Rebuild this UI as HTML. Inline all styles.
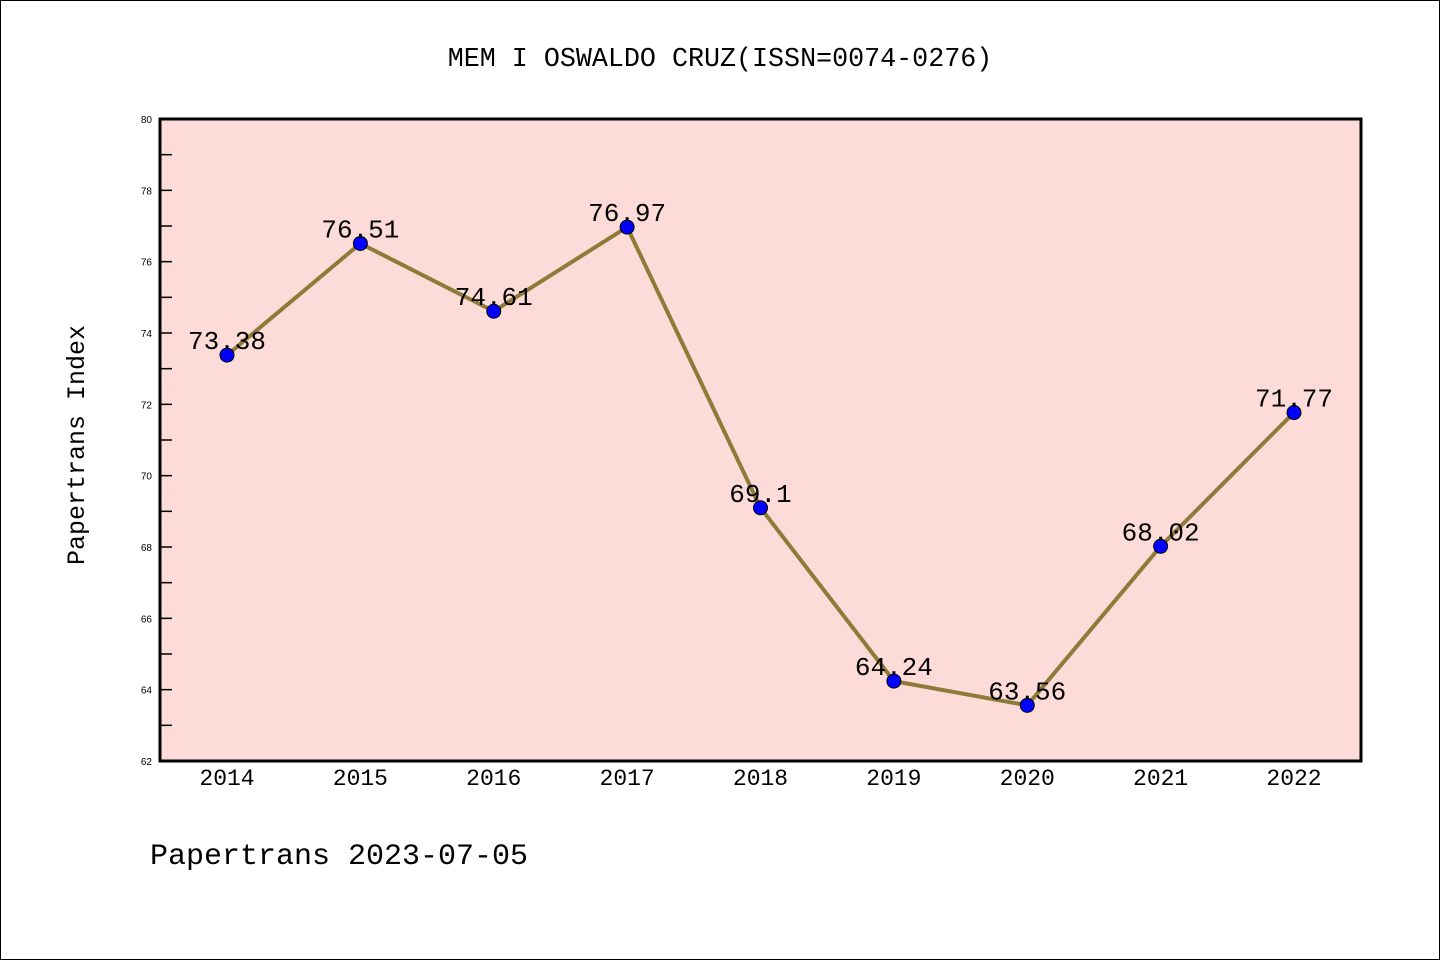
<!DOCTYPE html>
<html><head><meta charset="utf-8"><style>
body{margin:0;background:#fff}
svg text{font-family:"Liberation Mono",monospace}
svg text.s{font-family:"Liberation Sans",sans-serif}
</style></head><body>
<svg width="1440" height="960">
<rect x="0.5" y="0.5" width="1439" height="959" fill="#fff" stroke="#000"/>
<text x="720" y="66" font-size="26.7" text-anchor="middle">MEM I OSWALDO CRUZ(ISSN=0074-0276)</text>
<rect x="160" y="119" width="1201" height="642" fill="#fddbd8"/>
<g id="axes"></g>
<g id="marks"></g>
<rect x="160" y="119" width="1201" height="642" fill="none" stroke="#000" stroke-width="3"/>
<text transform="translate(84,445) rotate(-90)" font-size="25" text-anchor="middle">Papertrans Index</text>
<text x="150" y="864" font-size="30">Papertrans 2023-07-05</text>
</svg>
<script>
const years = ["2014","2015","2016","2017","2018","2019","2020","2021","2022"];
const values = [73.38,76.51,74.61,76.97,69.1,64.24,63.56,68.02,71.77];
const valueLabels = ["73.38","76.51","74.61","76.97","69.1","64.24","63.56","68.02","71.77"];
const yTicks = [62,64,66,68,70,72,74,76,78,80];
const NS="http://www.w3.org/2000/svg";
const yMin=62,yMax=80,pTop=119,pBot=761;
const sy=v=>pBot-(v-yMin)/(yMax-yMin)*(pBot-pTop);
const sx=i=>227+i*(1294-227)/(years.length-1);
function mk(t,a,p){const e=document.createElementNS(NS,t);for(const k in a)e.setAttribute(k,a[k]);p.appendChild(e);return e;}
const ax=document.getElementById('axes'),mg=document.getElementById('marks');
yTicks.forEach(v=>{
  const l=mk('line',{x1:160,x2:172,y1:sy(v),y2:sy(v),stroke:'#000','stroke-width':1.5},ax);
  
  
  const t=mk('text',{x:152,y:sy(v)+4,'font-size':10,'text-anchor':'end','class':'s'},ax);t.textContent=v;
  
  
  if(v<yMax){const m=mk('line',{x1:160,x2:172,y1:sy(v+1),y2:sy(v+1),stroke:'#000','stroke-width':1.5},ax);
  
  }
});
years.forEach((yr,i)=>{
  const t=mk('text',{x:sx(i),y:785,'font-size':23,'text-anchor':'middle'},ax);t.textContent=yr;
  
  
});
const pl=mk('polyline',{points:values.map((v,i)=>sx(i)+','+sy(v)).join(' '),fill:'none',stroke:'#8f7b38','stroke-width':4,'stroke-linejoin':'round'},mg);


values.forEach((v,i)=>{
  const c=mk('circle',{cx:sx(i),cy:sy(v),r:7,fill:'#0000ff',stroke:'#000','stroke-width':1},mg);
  
  
  const t=mk('text',{x:sx(i),y:sy(v)-6,'font-size':26,'text-anchor':'middle'},mg);t.textContent=valueLabels[i];
  
  
});
</script>
</body></html>
